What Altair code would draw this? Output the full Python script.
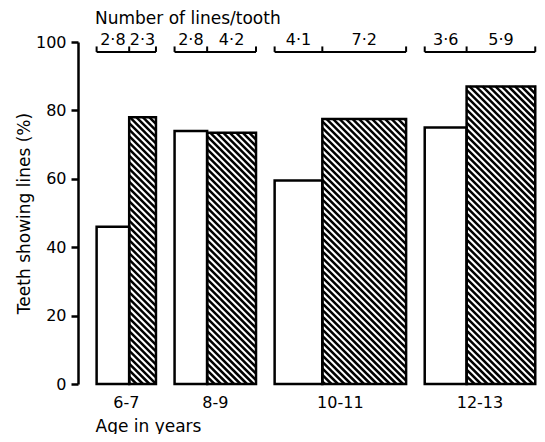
import altair as alt
import pandas as pd

# ---- data ----
ages = ["6-7", "8-9", "10-11", "12-13"]
lines_white = [2.8, 2.8, 4.1, 3.6]        # number of lines/tooth (bar widths)
lines_hatched = [2.3, 4.2, 7.2, 5.9]
labels_white = ["2·8", "2·8", "4·1", "3·6"]
labels_hatched = ["2·3", "4·2", "7·2", "5·9"]
pct_white = [46, 74, 59.5, 75]            # teeth showing lines (%)
pct_hatched = [78, 73.5, 77.5, 87]
y_ticks = [0, 20, 40, 60, 80, 100]

# ---- layout constants ----
W, H = 459, 342
GAP = 1.6          # gap between groups, in lines/tooth units
XMAX = 39.45
YMAX = 100
kx = W / XMAX
ky = H / YMAX
HATCH_STEP = 6.5   # px
FONT = "DejaVu Sans"
BRACKET_Y = 97.1
BRACKET_TICK = 98.7

bars, hatch, hseg, vticks, blabels, glabels = [], [], [], [], [], []
s = 0.0
for i, age in enumerate(ages):
    s += GAP
    a, m, b = s, s + lines_white[i], s + lines_white[i] + lines_hatched[i]
    bars.append(dict(x0=a, x1=m, pct=pct_white[i], base=0, kind="white"))
    bars.append(dict(x0=m, x1=b, pct=pct_hatched[i], base=0, kind="hatched"))
    # hatch segments derived from the hatched bar rectangle
    X0, X1, Ht = m * kx, b * kx, pct_hatched[i] * ky
    c = (int(X0 / HATCH_STEP) + 1) * HATCH_STEP
    while c < X1 + Ht:
        lo, hi = max(X0, c - Ht), min(X1, c)
        if hi > lo:
            hatch.append(dict(xa=lo / kx, ya=(c - lo) / ky, xb=hi / kx, yb=(c - hi) / ky))
        c += HATCH_STEP
    hseg.append(dict(xa=a, xb=b, y=BRACKET_Y))
    for xv in (a, m, b):
        vticks.append(dict(x=xv, ya=BRACKET_Y, yb=BRACKET_TICK))
    blabels.append(dict(x=(a + m) / 2, t=labels_white[i]))
    blabels.append(dict(x=(m + b) / 2, t=labels_hatched[i]))
    glabels.append(dict(x=(a + b) / 2, t=age))
    s = b

bars = pd.DataFrame(bars)
hatch = pd.DataFrame(hatch)
hseg = pd.DataFrame(hseg)
vticks = pd.DataFrame(vticks)
blabels = pd.DataFrame(blabels)
glabels = pd.DataFrame(glabels)

xs = alt.Scale(domain=[0, XMAX], nice=False, zero=False)
ys = alt.Scale(domain=[0, YMAX], nice=False)

xaxis = alt.Axis(labels=False, ticks=False, domain=False, grid=False,
                 title="Age in years", titleFont=FONT, titleFontSize=17,
                 titleFontWeight="normal", titleColor="black",
                 titleAnchor="start", titleAlign="left", titleX=17, titleY=47,
                 titleBaseline="alphabetic")
yaxis = alt.Axis(values=y_ticks, grid=False, domainWidth=2.5, domainColor="black",
                 tickWidth=2.5, tickColor="black", tickSize=7, labelPadding=5,
                 labelFont=FONT, labelFontSize=16, labelColor="black",
                 title="Teeth showing lines (%)", titleFont=FONT, titleFontSize=17,
                 titleFontWeight="normal", titleColor="black", titlePadding=2)

fill_layer = alt.Chart(bars).mark_bar(fill="white", strokeWidth=0).encode(
    x=alt.X("x0:Q", scale=xs, axis=xaxis),
    x2="x1:Q",
    y=alt.Y("pct:Q", scale=ys, axis=yaxis),
    y2="base:Q",
)

hatch_layer = alt.Chart(hatch).mark_rule(color="black", strokeWidth=2.5, strokeCap="butt").encode(
    x="xa:Q", x2="xb:Q", y="ya:Q", y2="yb:Q"
)

outline_layer = alt.Chart(bars).mark_bar(fillOpacity=0, stroke="black", strokeWidth=2.5).encode(
    x="x0:Q", x2="x1:Q", y="pct:Q", y2="base:Q"
)

bracket_h = alt.Chart(hseg).mark_rule(color="black", strokeWidth=2).encode(
    x="xa:Q", x2="xb:Q", y="y:Q"
)
bracket_v = alt.Chart(vticks).mark_rule(color="black", strokeWidth=2).encode(
    x="x:Q", y="ya:Q", y2="yb:Q"
)
bracket_text = alt.Chart(blabels).mark_text(font=FONT, fontSize=16, color="black",
                                            baseline="alphabetic", dy=-1).encode(
    x="x:Q", y=alt.datum(BRACKET_TICK), text="t:N"
)
group_text = alt.Chart(glabels).mark_text(font=FONT, fontSize=16, color="black",
                                          baseline="alphabetic").encode(
    x="x:Q", y=alt.datum(-7), text="t:N"
)
title_text = alt.Chart(glabels).mark_text(font=FONT, fontSize=17, color="black",
                                          baseline="alphabetic", align="left").encode(
    x=alt.value(17), y=alt.value(-18), text=alt.value("Number of lines/tooth")
).transform_filter(alt.datum.t == ages[0])

chart = alt.layer(
    fill_layer, hatch_layer, outline_layer, bracket_h, bracket_v, bracket_text,
    group_text, title_text
).properties(
    width=W, height=H,
    autosize=alt.AutoSizeParams(type="none"),
    padding={"left": 70, "top": 34, "right": 0, "bottom": 50},
    background="white",
).configure_view(stroke=None)

chart.save("out.html", embed_options={"renderer": "svg", "actions": False})
